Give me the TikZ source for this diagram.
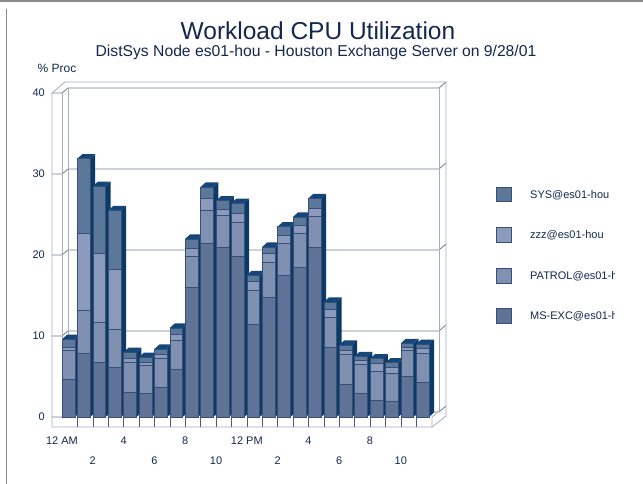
\documentclass[tikz,border=0pt]{standalone}
\usepackage{fontspec}
\setmainfont{Liberation Sans}
\definecolor{txtblue}{HTML}{13284F}
\definecolor{boxgray}{HTML}{A3ADBD}
\definecolor{gridgray}{HTML}{6E7D96}
\definecolor{tickgray}{HTML}{4A5A78}
\definecolor{framegray}{HTML}{8A8A8A}
\definecolor{msccol}{HTML}{5F7397}
\definecolor{patcol}{HTML}{7F90B1}
\definecolor{zzzcol}{HTML}{8C9BBB}
\definecolor{syscol}{HTML}{5B789B}
\definecolor{sidecol}{HTML}{0B3A68}
\definecolor{topcol}{HTML}{14467A}
\definecolor{segline}{HTML}{354F77}
\begin{document}
\begin{tikzpicture}[x=1pt,y=-1pt,
  boxline/.style={draw=boxgray, line width=0.8pt},
  gridline/.style={draw=gridgray, line width=0.8pt},
  lbl/.style={text=txtblue, inner sep=0pt, font=\fontsize{11}{13}\selectfont},
  seg/.style={draw=segline, line width=0.5pt},
  legbox/.style={draw=segline, line width=0.5pt, minimum size=14.5pt, inner sep=0pt}]
\useasboundingbox (0,0) rectangle (643,484);
\clip (0,0) rectangle (643,484);

% frame
\draw [framegray, line width=2pt] (0,1) -- (643,1);
\draw [framegray, line width=1pt] (6,9) -- (6,484);

% titles
\node[text=txtblue, inner sep=0pt, font=\fontsize{24.5}{29}\selectfont] (title) at (318,31) {Workload CPU Utilization};
\node[text=txtblue, inner sep=0pt, font=\fontsize{15.7}{19}\selectfont] (subtitle) at (316,52) {DistSys Node es01-hou - Houston Exchange Server on 9/28/01};
\node[lbl, font=\fontsize{12}{14}\selectfont] (yunit) at (57,68) {\% Proc};

% back wall with grid
\foreach \v in {0,...,4} {
  \pgfmathsetmacro{\yy}{417-81*\v}
  \draw [gridline] (52,\yy) -- (62,\yy) -- (68,\yy-5) -- (439,\yy-5) -- (446,\yy-11);
  \pgfmathtruncatemacro{\t}{10*\v}
  \node[lbl, anchor=east] (ytick\v) at (45,\yy) {\t};
}
\draw [boxline] (52,427) -- (52,93) -- (65,82) -- (446,82) -- (446,416) -- (432,427);
\draw [boxline] (62,417) -- (62,93);
\draw [boxline] (68,412) -- (68,88);
\draw [boxline] (439,411) -- (439,88);

% stacked bars: hour / MS-EXC / PATROL / zzz / SYS (cumulative)
\foreach \h/\m/\p/\z/\s in {0/4.6/8.3/8.6/9.6, 1/7.9/13.2/22.7/31.9, 2/6.7/11.7/20.2/28.5,
    3/6.2/10.8/18.3/25.5, 4/3.1/6.8/7.3/8.0, 5/2.9/6.4/6.8/7.4, 6/3.7/7.3/7.8/8.4,
    7/5.9/9.5/10.2/11.0, 8/16.0/19.8/20.8/22.0, 9/21.5/25.5/27.0/28.4, 10/21.0/24.9/25.7/26.7,
    11/19.8/24.0/25.2/26.4, 12/11.5/15.6/16.7/17.5, 13/14.8/19.1/20.2/21.0, 14/17.5/21.5/22.5/23.5,
    15/18.5/22.7/23.7/24.7, 16/20.9/24.8/25.8/27.0, 17/8.6/12.3/13.3/14.2, 18/4.1/7.8/8.3/8.9,
    19/2.9/6.5/7.0/7.5, 20/2.1/5.7/6.6/7.2, 21/2.0/5.4/6.1/6.7, 22/5.0/8.2/8.6/9.1, 23/4.3/7.9/8.5/9.0} {
  \pgfmathsetmacro{\xa}{62+15.4*\h}
  \pgfmathsetmacro{\xb}{\xa+12.8}
  \pgfmathsetmacro{\ys}{417-8.1*\s}
  \fill [sidecol] (\xb,417) -- (\xb+5,412.5) -- (\xb+5,\ys-4.5) -- (\xb,\ys) -- cycle;
  \fill [topcol] (\xa,\ys) -- (\xa+5,\ys-4.5) -- (\xb+5,\ys-4.5) -- (\xb,\ys) -- cycle;
  \filldraw [seg, fill=msccol] (\xa,417) rectangle (\xb,417-8.1*\m);
  \filldraw [seg, fill=patcol] (\xa,417-8.1*\m) rectangle (\xb,417-8.1*\p);
  \filldraw [seg, fill=zzzcol] (\xa,417-8.1*\p) rectangle (\xb,417-8.1*\z);
  \filldraw [seg, fill=syscol] (\xa,417-8.1*\z) rectangle (\xb,\ys);
}

% floor front face
\draw [boxline] (52,427) -- (432,427) -- (432,417) -- (439,411);
\foreach \k in {1,...,23}
  \draw [tickgray, line width=0.6pt] ({62+15.4*\k},417) -- ({62+15.4*\k},427);

% hour labels
\foreach \k/\t in {0/12 AM,4/4,8/8,12/12 PM,16/4,20/8}
  \node[lbl] (hour\k) at ({62+15.4*\k},440.7) {\t};
\foreach \k/\t in {2/2,6/6,10/10,14/2,18/6,22/10}
  \node[lbl] (hour\k) at ({62+15.4*\k},461) {\t};

% legend
\begin{scope}
\clip (470,170) rectangle (614,340);
\foreach \n/\c/\yy/\t in {sys/syscol/194.2/SYS@es01-hou, zzz/zzzcol/234.5/zzz@es01-hou,
    patrol/patcol/275.5/PATROL@es01-hou, msexc/msccol/315.8/MS-EXC@es01-hou} {
  \node[legbox, fill=\c] (leg\n) at (503.5,\yy) {};
  \node[lbl, anchor=west] (leg\n text) at (530,\yy+0.8) {\t};
}
\end{scope}
\end{tikzpicture}
\end{document}
